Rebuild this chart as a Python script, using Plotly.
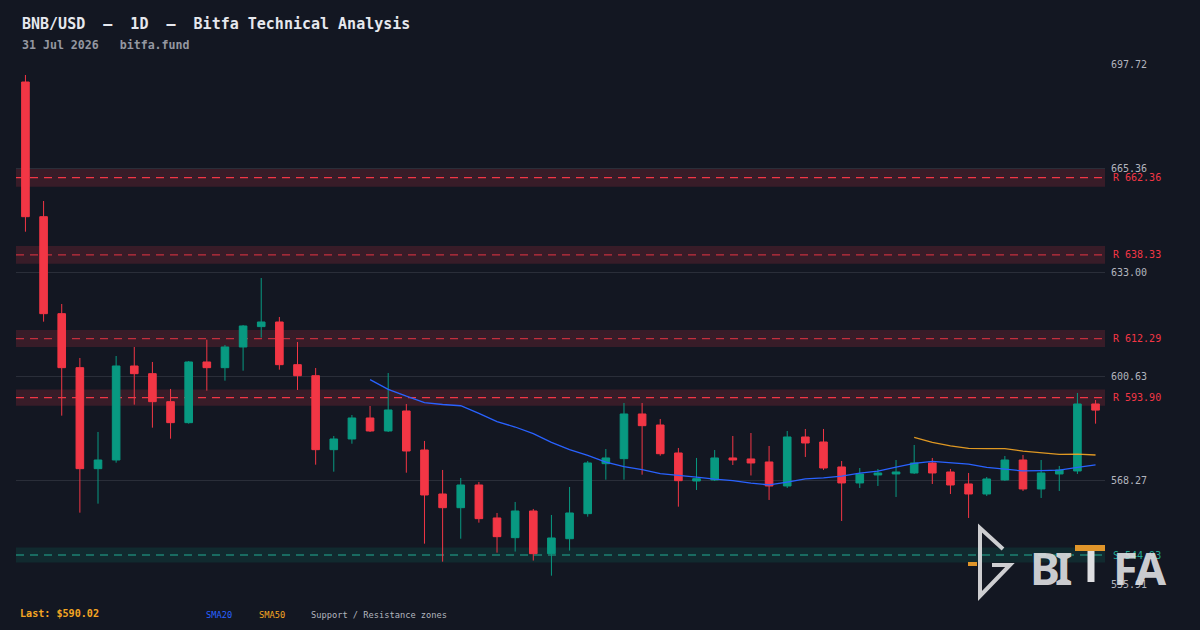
import numpy as np
import pandas as pd
import plotly.graph_objects as go

# --- data (BNB/USD daily, last 60 sessions) ---
opens = [692.12, 650.21, 620.03, 603.23, 571.80, 574.50, 603.75, 601.36, 592.65, 586.11,
         605.00, 603.23, 609.66, 616.00, 617.44, 604.16, 600.73, 577.71, 581.04, 587.57,
         583.53, 589.75, 577.61, 563.92, 559.66, 566.72, 556.46, 550.33, 558.63, 545.35,
         550.00, 557.80, 573.35, 574.91, 588.82, 585.39, 576.68, 567.97, 568.28, 575.13,
         574.82, 573.88, 566.41, 581.66, 580.10, 572.33, 567.35, 569.84, 570.15, 570.46,
         573.57, 570.77, 567.04, 563.92, 568.28, 574.50, 565.48, 570.15, 571.08, 591.93]
highs = [694.30, 655.09, 623.04, 606.24, 583.22, 606.86, 609.66, 605.00, 596.60, 605.31,
         611.94, 610.29, 616.51, 631.13, 619.00, 611.22, 603.13, 581.97, 588.50, 591.31,
         601.57, 591.93, 580.42, 571.39, 568.90, 567.66, 558.01, 561.44, 559.26, 557.39,
         566.10, 574.19, 577.92, 592.24, 592.24, 587.26, 578.24, 575.13, 577.61, 581.97,
         582.90, 578.86, 583.53, 584.15, 584.15, 574.19, 572.01, 571.70, 574.50, 579.17,
         575.13, 571.70, 570.46, 569.21, 575.75, 576.06, 574.50, 572.64, 595.35, 593.17]
lows = [645.54, 617.54, 588.29, 558.11, 560.91, 573.66, 591.72, 584.56, 581.13, 585.80,
        596.07, 599.18, 602.29, 612.56, 602.60, 596.28, 573.04, 570.86, 579.57, 583.20,
        583.20, 570.55, 548.46, 542.86, 550.01, 555.00, 545.66, 546.00, 543.20, 538.50,
        546.30, 556.86, 568.37, 568.37, 569.93, 575.84, 559.97, 565.17, 567.97, 572.95,
        569.68, 562.06, 565.79, 575.44, 571.39, 555.52, 565.79, 566.41, 562.99, 570.15,
        567.04, 563.92, 556.46, 563.30, 568.00, 564.86, 562.68, 564.86, 570.15, 585.80]
closes = [650.21, 620.03, 603.23, 571.80, 574.50, 603.75, 601.36, 592.65, 586.11, 605.00,
          603.23, 609.66, 616.20, 617.44, 604.16, 600.73, 577.71, 581.04, 587.57, 583.53,
          590.06, 577.30, 563.61, 559.66, 566.72, 556.24, 550.64, 558.63, 545.35, 550.23,
          558.01, 573.57, 575.13, 588.82, 585.18, 576.46, 568.06, 568.69, 575.13, 574.50,
          573.57, 566.41, 581.66, 579.79, 572.01, 567.35, 570.15, 570.46, 570.77, 573.57,
          570.46, 566.72, 563.92, 568.59, 574.50, 565.48, 570.46, 571.39, 591.93, 590.02]

resistance = [662.36, 638.33, 612.29, 593.90]
support = [544.93]
y_lo, y_hi = 535.91, 697.72

dates = pd.date_range(end="2026-07-31", periods=len(closes), freq="D")
df = pd.DataFrame({"open": opens, "high": highs, "low": lows, "close": closes}, index=dates)
df["sma20"] = df["close"].rolling(20).mean()
df["sma50"] = df["close"].rolling(50).mean()

BG = "#131722"
RED = "#f23645"
GREEN = "#089981"
TEAL = "#22ab94"
ORANGE = "#f5a623"
BLUE = "#2962ff"
LOGO_ORANGE = "#e0952a"
MONO = "DejaVu Sans Mono"

# plot area in pixels: x 16..1105, y 64..584
L, R, T, B = 16, 1105, 64, 584


def px(x):
    return (x - L) / (R - L)


def py(y):
    return (B - y) / (B - T)


fig = go.Figure()
fig.add_trace(go.Candlestick(
    x=df.index, open=df["open"], high=df["high"], low=df["low"], close=df["close"],
    increasing=dict(line=dict(color=GREEN, width=1), fillcolor=GREEN),
    decreasing=dict(line=dict(color=RED, width=1), fillcolor=RED),
    hoverinfo="skip", showlegend=False))
fig.add_trace(go.Scatter(x=df.index, y=df["sma20"], mode="lines",
                         line=dict(color=BLUE, width=1.3), hoverinfo="skip", showlegend=False))
fig.add_trace(go.Scatter(x=df.index, y=df["sma50"], mode="lines",
                         line=dict(color=ORANGE, width=1.3), opacity=0.9,
                         hoverinfo="skip", showlegend=False))

shapes = []
annotations = []
for i, lvl in enumerate(resistance):
    hw = lvl * 0.0043
    shapes.append(dict(type="rect", xref="paper", x0=0, x1=1, yref="y", y0=lvl - hw, y1=lvl + hw,
                       fillcolor="rgba(242,54,69,0.17)", line=dict(width=0), layer="below"))
    shapes.append(dict(type="line", xref="paper", x0=0, x1=1, yref="y", y0=lvl, y1=lvl,
                       line=dict(color=RED, width=1.2, dash="8px,6px"),
                       opacity=1.0 if i in (0, 3) else 0.75, layer="below"))
    annotations.append(dict(xref="paper", x=px(1111), yref="y", y=lvl, text=f"R {lvl:.2f}",
                            showarrow=False, xanchor="left", yanchor="middle",
                            font=dict(family=MONO, size=10, color=RED)))
for lvl in support:
    hw = lvl * 0.0043
    shapes.append(dict(type="rect", xref="paper", x0=0, x1=1, yref="y", y0=lvl - hw, y1=lvl + hw,
                       fillcolor="rgba(8,153,129,0.15)", line=dict(width=0), layer="below"))
    shapes.append(dict(type="line", xref="paper", x0=0, x1=1, yref="y", y0=lvl, y1=lvl,
                       line=dict(color=TEAL, width=1.2, dash="8px,6px"), layer="below"))
    annotations.append(dict(xref="paper", x=px(1111), yref="y", y=lvl, text=f"S {lvl:.2f}",
                            showarrow=False, xanchor="left", yanchor="middle",
                            font=dict(family=MONO, size=10, color=TEAL)))

# header / footer text
annotations += [
    dict(xref="paper", yref="paper", x=px(20), y=py(24), xanchor="left", yanchor="middle",
         text="<b>BNB/USD  —  1D  —  Bitfa Technical Analysis</b>", showarrow=False,
         font=dict(family=MONO, size=15, color="#e6e8ee")),
    dict(xref="paper", yref="paper", x=px(20), y=py(45), xanchor="left", yanchor="middle",
         text="<b>31 Jul 2026   bitfa.fund</b>", showarrow=False,
         font=dict(family=MONO, size=11.6, color="#9598a1")),
    dict(xref="paper", yref="paper", x=px(18), y=py(613), xanchor="left", yanchor="middle",
         text=f"<b>Last: ${closes[-1]:.2f}</b>", showarrow=False,
         font=dict(family=MONO, size=10.1, color=ORANGE)),
    dict(xref="paper", yref="paper", x=px(204), y=py(615), xanchor="left", yanchor="middle",
         text="SMA20", showarrow=False, font=dict(family=MONO, size=8.7, color=BLUE)),
    dict(xref="paper", yref="paper", x=px(257), y=py(615), xanchor="left", yanchor="middle",
         text="SMA50", showarrow=False, font=dict(family=MONO, size=8.7, color=ORANGE)),
    dict(xref="paper", yref="paper", x=px(309), y=py(615), xanchor="left", yanchor="middle",
         text="Support / Resistance zones", showarrow=False,
         font=dict(family=MONO, size=8.7, color="#b2b5be")),
]

# BITFA watermark logo (bottom right)
LOGO = "rgba(222,222,225,0.92)"
shapes += [
    dict(type="path", xref="paper", yref="paper", layer="above",
         path=f"M {px(1003)} {py(549)} L {px(980)} {py(528)} L {px(980)} {py(596)} "
              f"L {px(1010)} {py(565)} L {px(992)} {py(565)}",
         line=dict(color=LOGO, width=4)),
    dict(type="rect", xref="paper", yref="paper", layer="above",
         x0=px(968), x1=px(977), y0=py(566), y1=py(562), fillcolor=LOGO_ORANGE, line=dict(width=0)),
    # the "T" of the word mark: light stem, orange cross bar
    dict(type="line", xref="paper", yref="paper", layer="above",
         x0=px(1091), x1=px(1091), y0=py(582), y1=py(550),
         line=dict(color="#dedee1", width=7)),
    dict(type="rect", xref="paper", yref="paper", layer="above",
         x0=px(1075), x1=px(1105), y0=py(551), y1=py(545), fillcolor=LOGO_ORANGE, line=dict(width=0)),
]
for ch, cx in zip("BIFA", [1044.5, 1064, 1125, 1150.5]):
    annotations.append(dict(xref="paper", yref="paper", x=px(cx), y=py(567), text=f"<b>{ch}</b>",
                            showarrow=False, xanchor="center", yanchor="middle",
                            font=dict(family="Noto Sans", size=45, color=LOGO)))

fig.update_layout(
    width=1200, height=630,
    margin=dict(l=L, r=1200 - R, t=T, b=630 - B),
    paper_bgcolor=BG, plot_bgcolor=BG,
    boxgap=0.4,
    shapes=shapes, annotations=annotations,
    showlegend=False,
)
fig.update_xaxes(
    rangeslider_visible=False, showgrid=False, zeroline=False, showticklabels=False,
    showline=False,
    range=[dates[0] - pd.Timedelta(hours=12.5), dates[-1] + pd.Timedelta(hours=12.5)],
)
ticks = np.linspace(y_lo, y_hi, 6)
fig.update_yaxes(
    side="right", range=[y_lo, y_hi], tickvals=ticks, ticktext=[f"{t:.2f}" for t in ticks],
    showgrid=True, gridcolor="#2a2e39", gridwidth=1, zeroline=False, showline=False,
    ticks="", ticklabelstandoff=5,
    tickfont=dict(family=MONO, size=10, color="#b2b5be"),
)

fig.write_html("out.html", config={"displayModeBar": False},
               post_script="document.body.style.margin='0';document.body.style.background='#131722';")
